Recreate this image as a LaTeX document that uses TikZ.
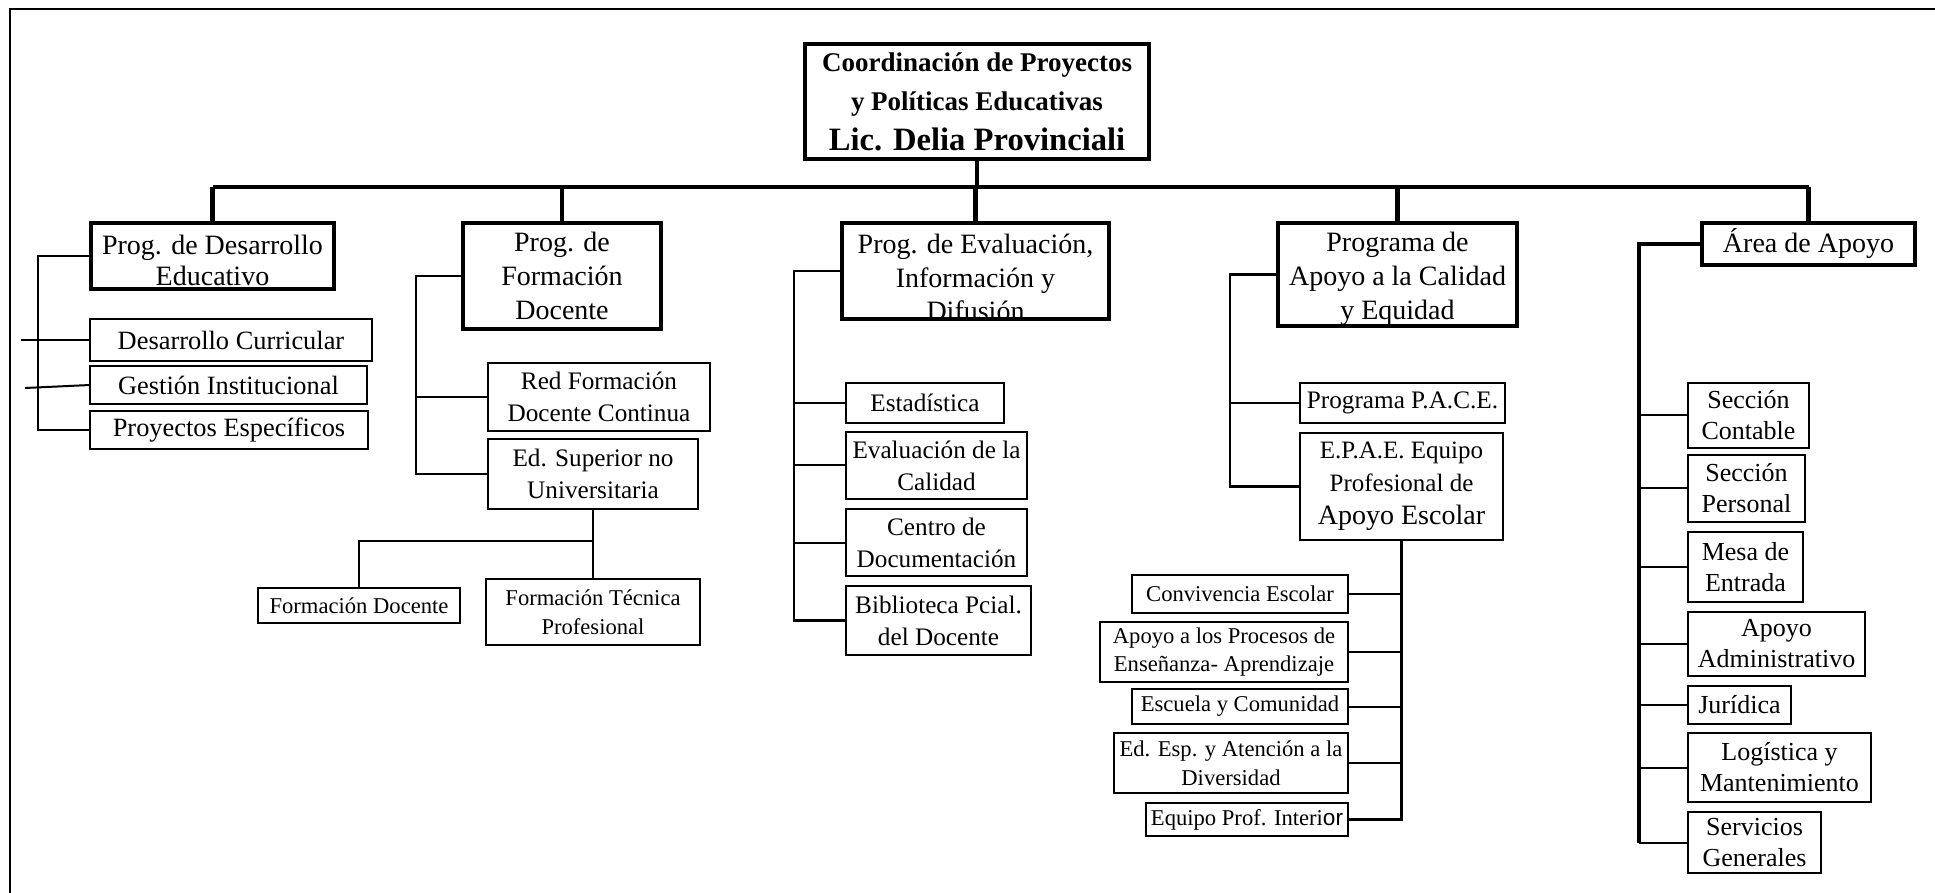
\documentclass[tikz,border=0pt]{standalone}
\usepackage{fontspec}
\setmainfont{Liberation Serif}
\setsansfont{Liberation Sans}
\begin{document}
\begin{tikzpicture}[x=0.5pt,y=-0.5pt,
  every node/.style={inner sep=0pt, outer sep=0pt, align=center},
  corners/.style n args={4}{at={({(#1+#3)/2},{(#2+#4)/2})},
    minimum width={(#3-#1)*0.5pt}, minimum height={(#4-#2)*0.5pt}},
  titlebox/.style={draw, line width=1.7pt, font=\bfseries\fontsize{13.5}{19.75}\selectfont},
  headbox/.style={draw, line width=1.9pt, font=\fontsize{14}{16.8}\selectfont},
  headtext/.style={font=\fontsize{14}{16.8}\selectfont},
  smallbox/.style={draw, line width=0.85pt},
  txtA/.style={font=\fontsize{13.2}{16}\selectfont},
  txtB/.style={font=\fontsize{12.6}{16}\selectfont},
  txtC/.style={font=\fontsize{11.3}{14.3}\selectfont},
  txtD/.style={font=\fontsize{13}{15.5}\selectfont},
  busline/.style={line width=2.2pt},
  trunk/.style={line width=1.2pt},
  heavytrunk/.style={line width=1.7pt},
  thinline/.style={line width=1pt},
  frameline/.style={line width=1.35pt},
]
\useasboundingbox (0,0) rectangle (1935,893);

% page frame (top and left edges)
\coordinate (frameTR) at (1935,9);
\coordinate (frameTL) at (10,9);
\coordinate (frameBL) at (10,893);
\draw[frameline] (frameTR) -- (frameTL) -- (frameBL);

% head of the organisation
\node[titlebox, corners={805}{44}{1149}{159}] (title)
  {Coordinación de Proyectos\\y Políticas Educativas\\{\fontsize{16.3}{20}\selectfont Lic. Delia Provinciali}};

% programme boxes
\node[headbox, corners={91}{223}{334}{289}] (des) {};
\node[headtext, font=\fontsize{14}{15.5}\selectfont] (desText) at ([yshift=-2.3pt]des.center) {Prog. de Desarrollo\\Educativo};

\node[headbox, corners={463}{223}{661}{329}] (form) {Prog. de\\Formación\\Docente};

\node[headbox, corners={842}{223}{1109}{319}] (eval) {};
\begin{scope}
  \clip (eval.south west) rectangle (eval.north east);
  \node[headtext] (evalText) at ([yshift=-3.4pt]eval.center) {Prog. de Evaluación,\\Información y\\Difusión};
\end{scope}

\node[headbox, corners={1278}{223}{1517}{326}] (prog) {};
\begin{scope}
  \clip (prog.south west) rectangle (prog.north east);
  \node[headtext] (progText) at ([yshift=-2.2pt]prog.center) {Programa de\\Apoyo a la Calidad\\y Equidad};
\end{scope}

\node[headbox, corners={1702}{223}{1915}{265}] (area) {Área de Apoyo};

% main bus
\coordinate (busY) at (0,187);
\draw[busline] (des.north |- busY) -- (area.north |- busY);
\draw[busline] (title.south) -- (title.south |- busY);
\foreach \n in {des,form,eval,prog,area}
  \draw[busline] (\n.north |- busY) -- (\n.north);

% Desarrollo Educativo
\node[smallbox, txtA, corners={90}{319}{372}{361}] (dc) {Desarrollo Curricular};
\node[smallbox, txtA, corners={90}{366}{367}{404}] (gi) {Gestión Institucional};
\node[smallbox, txtA, corners={90}{411}{368}{449}] (pe) {Proyectos Específicos};
\coordinate (tDes) at (38,0);
\draw[thinline] (des.west) -- (des.west -| tDes) -- (pe.west -| tDes) -- (pe.west);
\coordinate (dcTail) at (21,340);
\draw[thinline] (dcTail) -- (dc.west);
\coordinate (giTail) at (25,388);
\draw[thinline] (giTail) -- (gi.west);

% Formacion Docente
\node[smallbox, txtB, corners={488}{363}{710}{431}] (rf) {Red Formación\\Docente Continua};
\node[smallbox, txtB, corners={488}{439}{698}{509}] (es) {Ed. Superior no\\Universitaria};
\node[smallbox, txtC, corners={258}{588}{460}{623}] (fd) {Formación Docente};
\node[smallbox, txtC, corners={486}{579}{700}{645}] (ft) {Formación Técnica\\Profesional};
\coordinate (tForm) at (416,0);
\draw[trunk] (form.west) -- (form.west -| tForm) -- (es.west -| tForm) -- (es.west);
\draw[thinline] (rf.west -| tForm) -- (rf.west);
\draw[thinline] (es.south) -- (ft.north);
\coordinate (esJoin) at (0,541);
\draw[thinline] (es.south |- esJoin) -| (fd.north);

% Evaluacion, Informacion y Difusion
\node[smallbox, txtB, corners={846}{383}{1004}{423}] (est) {Estadística};
\node[smallbox, txtB, corners={846}{432}{1027}{499}] (evc) {Evaluación de la\\Calidad};
\node[smallbox, txtB, corners={846}{509}{1027}{576}] (cd) {Centro de\\Documentación};
\node[smallbox, txtB, corners={846}{586}{1031}{655}] (bib) {Biblioteca Pcial.\\del Docente};
\coordinate (tEval) at (794,0);
\draw[trunk] (eval.west) -- (eval.west -| tEval) -- (bib.west -| tEval) -- (bib.west);
\foreach \n in {est,evc,cd}
  \draw[thinline] (\n.west -| tEval) -- (\n.west);

% Apoyo a la Calidad y Equidad
\node[smallbox, txtB, corners={1300}{383}{1505}{423}] (pace) {Programa P.A.C.E.};
\node[smallbox, font=\fontsize{12.5}{16.5}\selectfont, corners={1300}{433}{1503}{540}] (epae)
  {E.P.A.E. Equipo\\Profesional de\\{\fontsize{14}{16.5}\selectfont Apoyo Escolar}};
\coordinate (tProg) at (1230,0);
\draw[trunk] (prog.west) -- (prog.west -| tProg) -- (epae.west -| tProg) -- (epae.west);
\draw[thinline] (pace.west -| tProg) -- (pace.west);

% E.P.A.E. teams
\node[smallbox, txtC, corners={1132}{575}{1348}{613}] (cv) {Convivencia Escolar};
\node[smallbox, txtC, corners={1100}{622}{1348}{682}] (apr) {Apoyo a los Procesos de\\Enseñanza- Aprendizaje};
\node[smallbox, txtC, corners={1132}{689}{1348}{724}] (ec) {Escuela y Comunidad};
\node[smallbox, txtC, corners={1114}{733}{1348}{793}] (ee) {Ed. Esp. y Atención a la\\Diversidad};
\node[smallbox, txtC, corners={1146}{803}{1348}{836}] (ep) {Equipo Prof. Interi{\sffamily or}};
\draw[heavytrunk] (epae.south) -- (epae.south |- ep.east) -- (ep.east);
\foreach \n in {cv,apr,ec,ee}
  \draw[thinline] (\n.east) -- (\n.east -| epae.south);

% Area de Apoyo
\node[smallbox, txtD, corners={1688}{383}{1809}{448}] (sc) {Sección\\Contable};
\node[smallbox, txtD, corners={1688}{455}{1805}{522}] (sp) {Sección\\Personal};
\node[smallbox, txtD, corners={1688}{532}{1803}{602}] (me) {Mesa de\\Entrada};
\node[smallbox, txtD, corners={1688}{612}{1865}{676}] (aa) {Apoyo\\Administrativo};
\node[smallbox, txtD, corners={1688}{686}{1791}{724}] (ju) {Jurídica};
\node[smallbox, txtD, corners={1688}{733}{1871}{802}] (lm) {Logística y\\Mantenimiento};
\node[smallbox, txtD, corners={1688}{812}{1821}{873}] (sg) {Servicios\\Generales};
\coordinate (tArea) at (1639,0);
\draw[heavytrunk] (area.west) -- (area.west -| tArea) -- (sg.west -| tArea);
\draw[thinline] (sg.west -| tArea) -- (sg.west);
\foreach \n in {sc,sp,me,aa,ju,lm}
  \draw[thinline] (\n.west -| tArea) -- (\n.west);
\end{tikzpicture}
\end{document}
